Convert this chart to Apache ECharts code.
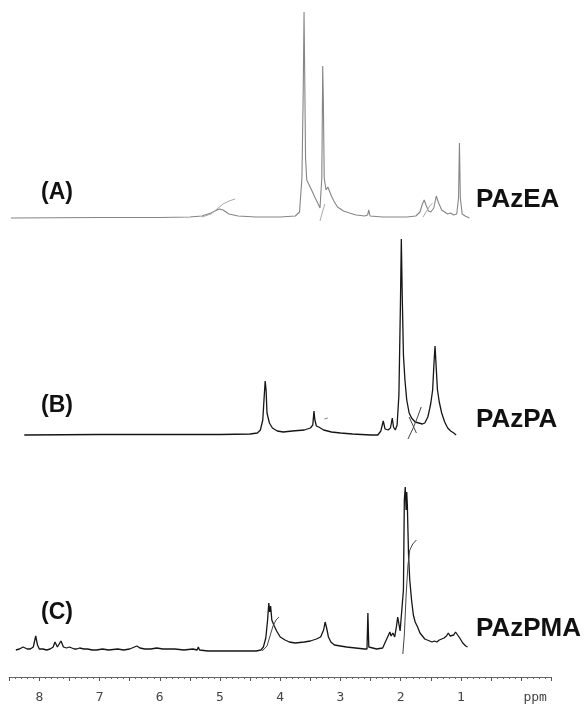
<!DOCTYPE html>
<html><head><meta charset="utf-8">
<script src="https://cdn.jsdelivr.net/npm/echarts@6/dist/echarts.min.js"></script>
<style>html,body{margin:0;padding:0;background:#fff}#c{width:588px;height:707px}</style>
</head><body><div id="c"></div>
<script>
// ---- data: [ppm, intensity] ----
const specA = [[8.47,0],[7.0,0.5],[6.0,0.5],[5.5,1],[5.3,2],[5.15,5],[5.05,8],[5.01,9],[4.95,8],[4.85,4],[4.7,2],[4.4,1],[4.0,1],[3.75,2],[3.68,6],[3.64,40],[3.62,120],[3.605,206],[3.595,150],[3.58,60],[3.56,38],[3.54,37],[3.48,28],[3.42,20],[3.37,14],[3.34,10],[3.31,40],[3.295,152],[3.285,120],[3.27,40],[3.24,28],[3.21,31],[3.19,29],[3.15,22],[3.11,17],[3.05,11],[2.95,7],[2.85,5],[2.74,3],[2.6,2],[2.55,3],[2.53,8],[2.51,2],[2.3,1],[1.9,1],[1.75,2],[1.68,6],[1.64,14],[1.61,18],[1.58,13],[1.54,7],[1.5,6],[1.45,10],[1.41,22],[1.39,23],[1.37,15],[1.32,8],[1.27,6],[1.22,4],[1.17,5],[1.12,3],[1.07,4],[1.04,20],[1.025,75],[1.01,20],[0.98,4],[0.93,2],[0.86,0]];
const intA1 = [[5.3,1],[5.15,4],[5.05,9],[4.95,14],[4.85,17],[4.75,19]];
const intA2 = [[3.34,-3],[3.30,6],[3.26,14]];
const intA3 = [[1.63,1],[1.57,7],[1.52,12],[1.47,15]];
const specB = [[8.25,0],[7.0,0.5],[5.0,0.5],[4.5,1],[4.38,2],[4.33,5],[4.29,15],[4.265,40],[4.25,54],[4.235,45],[4.22,22],[4.18,12],[4.13,7],[4.05,4],[3.95,3],[3.8,4],[3.6,5],[3.5,7],[3.46,10],[3.44,24],[3.425,15],[3.40,9],[3.36,8],[3.28,5],[3.15,3],[3.0,2],[2.8,1],[2.5,0],[2.38,0],[2.33,4],[2.29,14],[2.26,6],[2.24,8],[2.21,5],[2.17,7],[2.14,17],[2.12,8],[2.09,5],[2.06,10],[2.03,40],[2.005,130],[1.99,196],[1.975,140],[1.955,80],[1.93,55],[1.90,35],[1.86,22],[1.82,17],[1.76,13],[1.70,12],[1.64,11],[1.6,12],[1.55,18],[1.52,26],[1.50,32],[1.47,45],[1.445,75],[1.43,89],[1.415,72],[1.39,45],[1.36,33],[1.32,22],[1.27,13],[1.22,7],[1.17,4],[1.12,2],[1.08,0]];
const intB1 = [[1.88,-4],[1.80,6],[1.72,18],[1.66,28]];
const intB2 = [[1.86,18],[1.80,10],[1.74,2]];
const intB3 = [[3.27,16],[3.21,17]];
const specC = [[8.39,0],[8.33,1],[8.27,3],[8.2,1],[8.15,1],[8.1,3],[8.06,14],[8.03,5],[8.0,1],[7.94,1],[7.88,0],[7.82,1],[7.77,3],[7.74,8],[7.70,3],[7.67,5],[7.64,9],[7.60,3],[7.55,2],[7.5,3],[7.46,2],[7.42,1],[7.38,1],[7.33,2],[7.30,4],[7.26,1],[7.2,1],[7.12,0],[7.05,0],[6.95,1],[6.85,0],[6.7,1],[6.6,0],[6.5,1],[6.42,3],[6.38,4],[6.33,2],[6.25,1],[6.15,1],[6.05,2],[5.95,1],[5.85,1],[5.75,1],[5.6,0],[5.45,1],[5.38,0],[5.36,3],[5.34,0],[5.2,-1],[5.0,-1],[4.8,-1],[4.6,-1],[4.4,-1],[4.32,0],[4.28,3],[4.24,12],[4.21,30],[4.19,47],[4.175,38],[4.16,44],[4.14,30],[4.10,24],[4.06,19],[4.0,13],[3.92,10],[3.85,8],[3.75,7],[3.6,8],[3.5,9],[3.4,11],[3.33,13],[3.28,20],[3.255,28],[3.23,22],[3.2,13],[3.16,8],[3.1,5],[3.0,4],[2.9,3],[2.75,2],[2.6,1],[2.56,1],[2.545,37],[2.53,3],[2.5,1],[2.4,1],[2.3,2],[2.27,4],[2.24,10],[2.21,12],[2.18,18],[2.16,14],[2.13,17],[2.10,13],[2.07,24],[2.05,33],[2.03,26],[2.01,19],[1.98,20],[1.955,60],[1.94,150],[1.925,163],[1.91,140],[1.90,158],[1.89,145],[1.88,120],[1.87,95],[1.85,70],[1.82,50],[1.79,35],[1.76,28],[1.72,23],[1.68,17],[1.64,14],[1.6,11],[1.56,10],[1.52,9],[1.48,8],[1.44,9],[1.40,8],[1.36,10],[1.32,11],[1.28,12],[1.24,14],[1.21,17],[1.18,14],[1.15,13],[1.12,15],[1.09,18],[1.06,16],[1.02,12],[0.97,7],[0.92,4],[0.89,3]];
const intC1 = [[4.30,-1],[4.22,4],[4.17,14],[4.12,24],[4.07,30],[4.02,33]];
const intC2 = [[1.965,-4],[1.94,15],[1.91,55],[1.88,85],[1.85,100],[1.80,106],[1.74,110]];
const panelLetters = ['(A)','(B)','(C)'];
const polymerNames = ['PAzEA','PAzPA','PAzPMA'];
const xMin = -0.5, xMax = 8.5, xInterval = 0.5;
const tickLabels = [1,2,3,4,5,6,7,8];

// ---- layout ----
const gridL = 9.2, gridR = 36.7;
const grids = [
  {left:gridL,right:gridR,top:8,bottom:484},
  {left:gridL,right:gridR,top:235,bottom:267},
  {left:gridL,right:gridR,top:480,bottom:52}
];
const yRanges = [[-5,210],[-5,200],[-5,170]];
const xAxes = grids.map((g,i)=>({
  type:'value', gridIndex:i, inverse:true, min:xMin, max:xMax, interval:xInterval,
  show: i===2, position:'bottom', offset: i===2 ? 22 : 0,
  axisLine:{show:true,onZero:false,lineStyle:{color:'#666',width:1}},
  axisTick:{show:true,inside:false,length:4,lineStyle:{color:'#555'}},
  minorTick:{show:true,splitNumber:5,length:2,lineStyle:{color:'#666'}},
  splitLine:{show:false},
  axisLabel:{margin:14,color:'#444',fontFamily:'DejaVu Sans Mono',fontSize:13,
    formatter:v=>{ if(Math.abs(v)<1e-9) return '{p|ppm}';
      return tickLabels.indexOf(v)>=0 ? String(v) : ''; },
    rich:{p:{padding:[0,0,0,28],color:'#444',fontFamily:'DejaVu Sans Mono',fontSize:13}}}
}));
const yAxes = grids.map((g,i)=>({type:'value',gridIndex:i,min:yRanges[i][0],max:yRanges[i][1],show:false}));

function line(data, i, color, w){
  return {type:'line', xAxisIndex:i, yAxisIndex:i, data:data, showSymbol:false,
    symbol:'none', clip:false, lineStyle:{color:color,width:w}, silent:true, animation:false};
}
const grey='#858585', black='#161616';
const series = [
  line(specA,0,grey,1.1), line(intA1,0,'#aaa',1), line(intA2,0,'#aaa',1), line(intA3,0,'#aaa',1),
  line(specB,1,black,1.3), line(intB1,1,'#444',1), line(intB2,1,'#444',1), line(intB3,1,'#888',1),
  line(specC,2,black,1.3), line(intC1,2,'#444',1), line(intC2,2,'#444',1)
];

const letterY=[193,406,613], nameY=[200,420,629];
const graphic = [];
panelLetters.forEach((t,i)=>graphic.push({type:'text',left:41,top:letterY[i]-12,
  style:{text:t,fill:'#111',font:'bold 23px "Liberation Sans", Arial, sans-serif'}}));
polymerNames.forEach((t,i)=>graphic.push({type:'text',left:476,top:nameY[i]-13,
  style:{text:t,fill:'#111',font:'bold 26px "Liberation Sans", Arial, sans-serif'}}));

const chart = echarts.init(document.getElementById('c'),null,{renderer:'canvas'});
chart.setOption({animation:false, backgroundColor:'#fff', grid:grids, xAxis:xAxes, yAxis:yAxes, series:series, graphic:graphic});
</script></body></html>
